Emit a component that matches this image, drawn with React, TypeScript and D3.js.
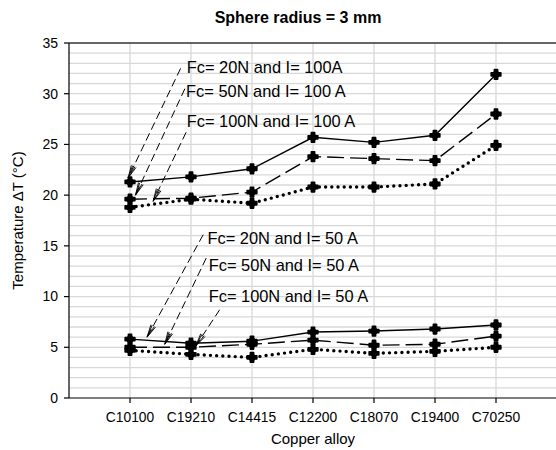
import React from "react";
import * as d3 from "d3";

const title = "Sphere radius = 3 mm";
const xTitle = "Copper alloy";
const yTitle = "Temperature \u0394T (\u00B0C)";
const categories = ["C10100", "C19210", "C14415", "C12200", "C18070", "C19400", "C70250"];
const yTicks = [0, 5, 10, 15, 20, 25, 30, 35];

const fc20_100 = [21.3, 21.8, 22.6, 25.7, 25.2, 25.9, 31.9];
const fc50_100 = [19.6, 19.7, 20.3, 23.8, 23.6, 23.4, 28.0];
const fc100_100 = [18.8, 19.6, 19.2, 20.8, 20.8, 21.1, 24.9];
const fc20_50 = [5.8, 5.4, 5.6, 6.5, 6.6, 6.8, 7.2];
const fc50_50 = [5.0, 5.0, 5.3, 5.7, 5.2, 5.3, 6.1];
const fc100_50 = [4.7, 4.3, 4.0, 4.8, 4.4, 4.6, 5.0];

// annotation labels: text, anchor (category index units, value units)
const labelTexts = [
  "Fc= 20N and I= 100A",
  "Fc= 50N and I= 100 A",
  "Fc= 100N and I= 100 A",
  "Fc= 20N and I= 50 A",
  "Fc= 50N and I= 50 A",
  "Fc= 100N and I= 50 A",
];
const labelX = [1.93, 1.92, 1.93, 2.27, 2.29, 2.29];
const labelY = [32.6, 30.2, 27.3, 15.7, 13.1, 10.0];
// arrows: from (x0,y0) to (x1,y1) in data units
const arrowX0 = [1.83, 1.9, 1.92, 2.2, 2.25, 2.47];
const arrowY0 = [32.5, 30.5, 26.2, 16.1, 13.8, 8.7];
const arrowX1 = [0.97, 1.09, 1.38, 1.28, 1.57, 2.08];
const arrowY1 = [21.7, 20.0, 19.4, 6.0, 5.3, 5.15];

const W = 556;
const H = 450;
const left = 69, top = 43, bottom = 398;
const FONT = "Liberation Sans, Arial, sans-serif";

export default function App() {
  const x = d3.scaleLinear().domain([0, 8]).range([left, left + 61 * 8]);
  const y = d3.scaleLinear().domain([0, 35]).range([bottom, top]);
  const line = d3
    .line<number>()
    .x((_, i) => x(i + 1))
    .y((d) => y(d));
  const series = [
    { data: fc20_100, dash: null, width: 1.4, cap: "butt" },
    { data: fc50_100, dash: "17 6", width: 1.4, cap: "butt" },
    { data: fc100_100, dash: "0 6.2", width: 3.4, cap: "round" },
    { data: fc20_50, dash: null, width: 1.4, cap: "butt" },
    { data: fc50_50, dash: "17 6", width: 1.4, cap: "butt" },
    { data: fc100_50, dash: "0 6.2", width: 3.4, cap: "round" },
  ];
  const marker = d3.symbol(d3.symbolCross, 52)() as string;
  const minor = d3.range(1, 35);

  return (
    <svg width={W} height={H} style={{ position: "absolute", left: 0, top: 0, background: "#fff" }} fontFamily={FONT}>
      <rect width={W} height={H} fill="#fff" />
      {minor.map((v) => (
        <line key={"h" + v} x1={left} x2={W} y1={y(v)} y2={y(v)} stroke="#d8d8d8" strokeWidth={1.3} />
      ))}
      {categories.map((c, i) => (
        <line key={"v" + c} x1={x(i + 1)} x2={x(i + 1)} y1={top} y2={bottom} stroke="#d8d8d8" strokeWidth={1.3} />
      ))}
      <line x1={left} x2={W} y1={y(35)} y2={y(35)} stroke="#333" strokeWidth={1.3} />
      <line x1={left} x2={W} y1={bottom} y2={bottom} stroke="#000" strokeWidth={1.2} />
      <line x1={left} x2={left} y1={top} y2={bottom} stroke="#000" strokeWidth={1.2} />
      {yTicks.map((t) => (
        <g key={"yt" + t}>
          <line x1={left - 5} x2={left} y1={y(t)} y2={y(t)} stroke="#000" strokeWidth={1.2} />
          <text x={58} y={y(t)} dy="0.35em" textAnchor="end" fontSize={14} fill="#000">
            {t}
          </text>
        </g>
      ))}
      {categories.map((c, i) => (
        <g key={"xt" + c}>
          <line x1={x(i + 1)} x2={x(i + 1)} y1={bottom} y2={bottom + 5} stroke="#000" strokeWidth={1.2} />
          <text x={x(i + 1)} y={417} dy="0.35em" textAnchor="middle" fontSize={13.8} fill="#000">
            {c}
          </text>
        </g>
      ))}
      {series.map((s, k) => (
        <path
          key={"s" + k}
          d={line(s.data) as string}
          fill="none"
          stroke="#000"
          strokeWidth={s.width}
          strokeDasharray={s.dash ?? undefined}
          strokeLinecap={s.cap as any}
        />
      ))}
      {series.map((s, k) =>
        s.data.map((v, i) => (
          <g key={"m" + k + "-" + i} transform={`translate(${x(i + 1)},${y(v)})`}>
            <circle r={3.6} fill="#000" />
            <path d={marker} fill="#000" stroke="#000" strokeWidth={1.6} strokeLinejoin="round" />
          </g>
        ))
      )}
      {labelTexts.map((t, i) => {
        const x0 = x(arrowX0[i]), y0 = y(arrowY0[i]);
        const x1 = x(arrowX1[i]), y1 = y(arrowY1[i]);
        const ang = Math.atan2(y1 - y0, x1 - x0);
        const L = 13, a = 0.2;
        const p1 = [x1 - L * Math.cos(ang - a), y1 - L * Math.sin(ang - a)];
        const p2 = [x1 - L * Math.cos(ang + a), y1 - L * Math.sin(ang + a)];
        const p3 = [x1 - L * Math.cos(ang - a / 2), y1 - L * Math.sin(ang - a / 2)];
        const p4 = [x1 - L * Math.cos(ang + a / 2), y1 - L * Math.sin(ang + a / 2)];
        return (
          <g key={"a" + i}>
            <line x1={x0} y1={y0} x2={x1} y2={y1} stroke="#000" strokeWidth={1} strokeDasharray="8 4" />
            <path
              d={`M${p1[0]},${p1[1]}L${x1},${y1}L${p2[0]},${p2[1]}M${p3[0]},${p3[1]}L${x1},${y1}L${p4[0]},${p4[1]}`}
              fill="none"
              stroke="#000"
              strokeWidth={0.9}
            />
            <text x={x(labelX[i])} y={y(labelY[i])} dy="0.35em" fontSize={16.4} fill="#000">
              {t}
            </text>
          </g>
        );
      })}
      <text x={298} y={17} dy="0.35em" textAnchor="middle" fontSize={16} fontWeight="bold" fill="#000">
        {title}
      </text>
      <text x={313} y={439} dy="0.35em" textAnchor="middle" fontSize={15} fill="#000">
        {xTitle}
      </text>
      <text
        transform={`translate(18,${(top + bottom) / 2}) rotate(-90)`}
        dy="0.35em"
        textAnchor="middle"
        fontSize={15}
        fill="#000"
      >
        {yTitle}
      </text>
    </svg>
  );
}
